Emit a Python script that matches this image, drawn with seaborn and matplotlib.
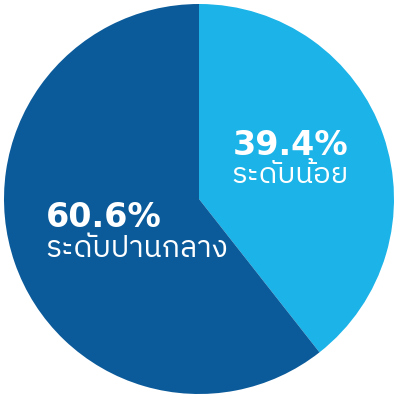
import matplotlib
matplotlib.use("Agg")
import matplotlib.pyplot as plt
from matplotlib import font_manager
from matplotlib.ft2font import FT2Font
import seaborn as sns

# Share of respondents by level
labels = ["ระดับน้อย", "ระดับปานกลาง"]
values = [39.4, 60.6]
colors = ["#1bb3e8", "#0b5b9b"]

sns.set_theme(style="white")


def find_thai_font():
    """Return the name of an installed font that covers Thai script."""
    preferred = []
    others = []
    for f in font_manager.fontManager.ttflist:
        try:
            cmap = FT2Font(f.fname).get_charmap()
        except Exception:
            continue
        if 0x0E23 in cmap and 0x0E14 in cmap:
            if "thai" in f.name.lower():
                preferred.append(f.name)
            else:
                others.append(f.name)
    for group in (preferred, others):
        if group:
            return group[0]
    return None


thai_font = find_thai_font()
thai_family = ([thai_font] if thai_font else []) + ["DejaVu Sans"]
plt.rcParams["font.family"] = thai_family

fig = plt.figure(figsize=(3.94, 3.94), dpi=100)
ax = fig.add_axes([0, 0, 1, 1])
ax.pie(values, colors=colors, startangle=90, counterclock=False,
       radius=1.0, center=(0, 0), wedgeprops=dict(linewidth=0))
ax.set_xlim(-1.0205, 1.0)
ax.set_ylim(-1.0, 1.0205)
ax.set_aspect("auto")
ax.axis("off")

pct_font = ["DejaVu Sans"]
ax.text(0.467, 0.226, f"{values[0]:.1f}%", ha="center", va="baseline",
        color="white", fontsize=24, fontweight="bold", family=pct_font)
ax.text(0.467, 0.082, labels[0], ha="center", va="baseline",
        color="white", fontsize=21, fontweight="normal", family=thai_family)
ax.text(-0.785, -0.144, f"{values[1]:.1f}%", ha="left", va="baseline",
        color="white", fontsize=24, fontweight="bold", family=pct_font)
ax.text(-0.79, -0.297, labels[1], ha="left", va="baseline",
        color="white", fontsize=21.5, fontweight="normal", family=thai_family)

fig.savefig("out.png", dpi=100, facecolor="white")
